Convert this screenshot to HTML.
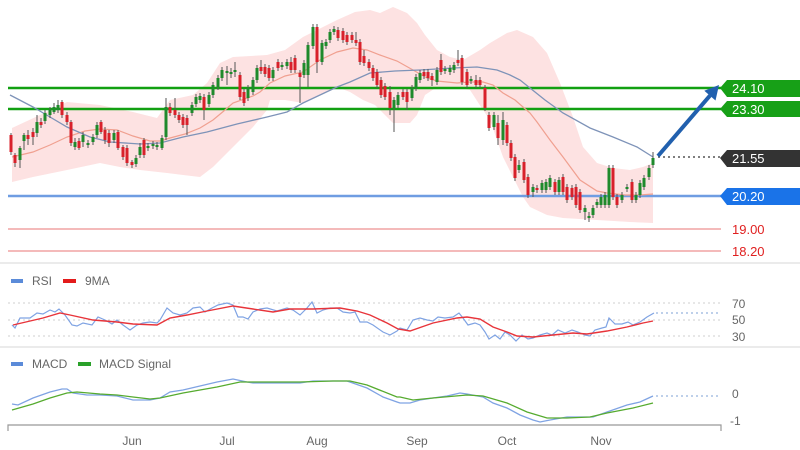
<!DOCTYPE html>
<html><head><meta charset="utf-8"><style>
html,body{margin:0;padding:0;background:#fff;}
svg{display:block;font-family:"Liberation Sans",sans-serif;}
</style></head><body>
<svg width="800" height="450" viewBox="0 0 800 450" xmlns="http://www.w3.org/2000/svg">
<rect width="800" height="450" fill="#fff"/>
<!-- Bollinger band -->
<polygon fill="#fde2e2" points="12,128 40,115 67,102 100,105 133,112 157,118 170,100 193,95 207,83 220,63 233,57 267,55 285,50 303,37 337,20 355,12 370,10 380,13 393,7 407,13 417,23 425,35 437,50 450,57 463,60 480,50 490,43 507,33 517,30 533,37 547,53 560,83 573,117 583,147 597,163 613,168 630,170 643,167 653,163 653,223 630,222 597,220 563,218 547,215 530,207 523,197 503,157 490,120 483,110 470,90 457,87 437,87 425,95 417,115 410,123 393,123 375,105 363,100 350,92 337,87 320,95 303,103 285,100 270,100 267,110 253,127 233,147 213,167 200,177 183,175 167,173 140,170 120,167 100,163 67,170 33,177 12,182"/>
<!-- separators -->
<line x1="0" y1="263" x2="800" y2="263" stroke="#ebebeb" stroke-width="2"/>
<line x1="0" y1="347" x2="800" y2="347" stroke="#ebebeb" stroke-width="2"/>
<!-- horizontal levels -->
<line x1="8" y1="88" x2="721" y2="88" stroke="#12a012" stroke-width="2.5"/>
<line x1="8" y1="109" x2="721" y2="109" stroke="#12a012" stroke-width="2.5"/>
<line x1="8" y1="196" x2="721" y2="196" stroke="#6f9de2" stroke-width="2.5"/>
<line x1="8" y1="229" x2="721" y2="229" stroke="#f0a3a3" stroke-width="1.5"/>
<line x1="8" y1="251" x2="721" y2="251" stroke="#f0a3a3" stroke-width="1.5"/>
<!-- MAs -->
<polyline fill="none" stroke="#f0a090" stroke-width="1.2" points="12,157 33,152 50,145 67,137 85,131 100,129 117,130 133,136 150,141 160,141 170,138 185,134 200,128 213,120 225,110 233,103 253,96 260,92 270,83 285,76 303,72 320,60 337,52 353,48 367,50 380,55 397,61 413,70 427,78 437,81 457,83 470,82 483,82 493,85 503,93 515,100 523,107 530,113 537,122 550,140 563,157 580,180 597,191 607,193 625,195 640,195 653,194"/>
<polyline fill="none" stroke="#7e93b8" stroke-width="1.3" points="10,95 33,107 50,117 67,127 90,137 110,142 140,144 160,143 183,137 207,132 237,124 267,117 287,112 303,103 320,95 337,87 350,82 370,73 395,71 420,70 453,68 477,67 497,70 510,75 520,80 530,88 545,100 563,113 590,128 613,137 637,147 653,157"/>
<!-- wicks -->
<path fill="none" stroke="#555" stroke-width="1" d="M11 133V155M15 153V167M20 146V168M24 133V150M28 130V145M33 128V145M37 115V137M41 118V128M45 110V124M50 107V118M54 103V114M58 100V113M62 100V118M67 112V125M71 120V146M75 138V150M79 138V150M83 132V147M88 140V148M93 134V145M97 122V138M101 120V134M105 127V144M109 130V147M114 130V143M118 130V150M123 145V160M127 145V166M132 160V168M136 155V167M140 143V158M144 138V158M148 143V151M153 141V149M157 142V150M162 135V150M166 98V140M170 103V116M175 98V118M179 112V123M183 114V128M187 115V135M192 102V116M196 94V107M200 93V103M204 94V120M209 92V107M213 82V98M218 75V90M222 67V81M227 66V85M231 68V78M235 62V77M240 72V100M244 89V106M248 85V101M253 77V95M257 65V83M261 60V74M265 64V77M269 65V81M273 67V81M278 59V71M282 62V70M287 59V69M291 57V73M295 55V73M300 70V103M304 60V78M308 42V87M313 24V49M317 24V73M322 40V65M326 39V49M330 29V43M334 26V35M338 27V41M343 28V43M347 32V45M352 32V43M356 32V46M360 39V65M364 50V66M369 59V71M373 65V81M377 69V88M381 77V98M385 83V100M390 86V115M394 97V132M398 92V108M403 89V100M407 89V110M412 85V101M416 74V91M420 70V83M424 69V79M428 69V81M432 73V86M437 67V85M441 54V75M445 66V74M450 65V75M454 62V73M458 50V66M462 55V85M467 69V88M471 76V84M476 75V88M480 77V88M485 85V111M489 112V131M494 112V130M498 115V145M503 112V145M507 122V146M511 140V161M515 154V181M519 160V173M524 159V183M528 174V198M533 184V197M537 185V193M542 180V193M546 179V193M550 175V190M555 179V195M559 177V195M563 174V195M567 184V203M572 185V200M576 184V208M580 189V213M585 205V220M589 212V222M593 205V218M597 199V208M601 194V208M605 192V208M609 165V208M613 165V200M617 194V208M622 192V203M627 184V192M632 179V203M636 192V203M640 180V198M644 175V190M649 165V180M653 152V168"/>
<!-- green bodies -->
<path fill="#1f8a2c" d="M18.5 148h3v12h-3zM22.5 135h3v6h-3zM35.5 122h3v11h-3zM43.5 113h3v8h-3zM48.5 110h3v5h-3zM52.5 107h3v5h-3zM56.5 105h3v5h-3zM73.5 142h3v5h-3zM81.5 135h3v7h-3zM86.5 143h3v2h-3zM91.5 137h3v5h-3zM95.5 125h3v10h-3zM112.5 133h3v7h-3zM134.5 158h3v6h-3zM138.5 147h3v8h-3zM146.5 146h3v2h-3zM151.5 144h3v2h-3zM155.5 145h3v2h-3zM160.5 138h3v10h-3zM164.5 107h3v30h-3zM190.5 105h3v8h-3zM194.5 97h3v7h-3zM198.5 96h3v4h-3zM207.5 95h3v9h-3zM211.5 85h3v10h-3zM216.5 78h3v9h-3zM220.5 70h3v8h-3zM225.5 71h3v2h-3zM229.5 72h3v2h-3zM233.5 70h3v2h-3zM246.5 88h3v10h-3zM251.5 80h3v12h-3zM255.5 68h3v12h-3zM271.5 70h3v8h-3zM280.5 65h3v2h-3zM285.5 62h3v4h-3zM302.5 63h3v12h-3zM306.5 45h3v30h-3zM311.5 27h3v19h-3zM320.5 43h3v19h-3zM324.5 42h3v4h-3zM328.5 32h3v8h-3zM332.5 29h3v3h-3zM392.5 100h3v8h-3zM396.5 95h3v10h-3zM410.5 88h3v10h-3zM414.5 77h3v11h-3zM418.5 73h3v7h-3zM435.5 70h3v12h-3zM443.5 69h3v2h-3zM448.5 68h3v4h-3zM452.5 65h3v5h-3zM469.5 79h3v2h-3zM492.5 115h3v12h-3zM501.5 120h3v20h-3zM517.5 165h3v5h-3zM531.5 187h3v5h-3zM540.5 183h3v7h-3zM544.5 182h3v8h-3zM548.5 178h3v9h-3zM557.5 180h3v12h-3zM583.5 208h3v4h-3zM587.5 216h3v2h-3zM591.5 208h3v7h-3zM595.5 202h3v3h-3zM599.5 197h3v8h-3zM603.5 195h3v10h-3zM607.5 168h3v37h-3zM620.5 195h3v5h-3zM625.5 187h3v2h-3zM634.5 195h3v5h-3zM638.5 183h3v12h-3zM642.5 178h3v9h-3zM647.5 168h3v9h-3zM651.5 158h3v7h-3z"/>
<!-- red bodies -->
<path fill="#d8212b" d="M9.5 135h3v17h-3zM13.5 155h3v8h-3zM26.5 135h3v4h-3zM31.5 132h3v5h-3zM39.5 122h3v3h-3zM60.5 102h3v13h-3zM65.5 115h3v7h-3zM69.5 122h3v21h-3zM77.5 141h3v7h-3zM99.5 122h3v10h-3zM103.5 130h3v10h-3zM107.5 133h3v10h-3zM116.5 132h3v16h-3zM121.5 147h3v10h-3zM125.5 148h3v15h-3zM130.5 162h3v3h-3zM142.5 140h3v15h-3zM168.5 107h3v6h-3zM173.5 110h3v5h-3zM177.5 115h3v5h-3zM181.5 117h3v8h-3zM185.5 118h3v7h-3zM202.5 97h3v13h-3zM238.5 75h3v22h-3zM242.5 92h3v11h-3zM259.5 67h3v4h-3zM263.5 67h3v7h-3zM267.5 68h3v10h-3zM276.5 62h3v6h-3zM289.5 62h3v8h-3zM293.5 58h3v12h-3zM298.5 73h3v4h-3zM315.5 27h3v35h-3zM336.5 30h3v8h-3zM341.5 31h3v9h-3zM345.5 35h3v7h-3zM350.5 35h3v5h-3zM354.5 40h3v3h-3zM358.5 42h3v20h-3zM362.5 56h3v7h-3zM367.5 62h3v6h-3zM371.5 68h3v10h-3zM375.5 72h3v13h-3zM379.5 80h3v15h-3zM383.5 86h3v11h-3zM388.5 92h3v16h-3zM401.5 92h3v5h-3zM405.5 92h3v10h-3zM422.5 72h3v4h-3zM426.5 72h3v6h-3zM430.5 76h3v4h-3zM439.5 60h3v12h-3zM456.5 60h3v3h-3zM460.5 58h3v24h-3zM465.5 72h3v13h-3zM474.5 80h3v5h-3zM478.5 80h3v5h-3zM483.5 88h3v20h-3zM487.5 115h3v13h-3zM496.5 123h3v15h-3zM505.5 125h3v18h-3zM509.5 143h3v15h-3zM513.5 157h3v21h-3zM522.5 162h3v18h-3zM526.5 177h3v18h-3zM535.5 188h3v2h-3zM553.5 182h3v10h-3zM561.5 177h3v15h-3zM565.5 187h3v13h-3zM570.5 188h3v9h-3zM574.5 187h3v18h-3zM578.5 192h3v18h-3zM611.5 168h3v29h-3zM615.5 197h3v8h-3zM630.5 182h3v18h-3z"/>
<!-- current price dotted -->
<line x1="658" y1="157" x2="720" y2="157" stroke="#555" stroke-width="1.5" stroke-dasharray="2,3"/>
<!-- arrow -->
<line x1="658" y1="156" x2="710" y2="95.6" stroke="#2160ae" stroke-width="4"/>
<polygon fill="#2160ae" points="719,85 715.5,100.5 704.3,90.8"/>
<!-- right labels -->
<path fill="#17a017" d="M720 88L727 80H800V97H727Z"/>
<text x="732" y="93" font-size="13" fill="#fff">24.10</text>
<path fill="#17a017" d="M720 109L727 101H800V117H727Z"/>
<text x="732" y="114" font-size="13" fill="#fff">23.30</text>
<path fill="#333" d="M720 158L727 150H800V167H727Z"/>
<text x="732" y="163" font-size="13" fill="#fff">21.55</text>
<path fill="#1a73e8" d="M720 196L727 188H800V205H727Z"/>
<text x="732" y="201" font-size="13" fill="#fff">20.20</text>
<text x="732" y="234" font-size="13" fill="#e02020">19.00</text>
<text x="732" y="256" font-size="13" fill="#e02020">18.20</text>
<!-- RSI panel -->
<rect x="11" y="279" width="12" height="4" fill="#5b8bd9"/>
<text x="32" y="285" font-size="12" fill="#666">RSI</text>
<rect x="63" y="279" width="13" height="4" fill="#e31b1b"/>
<text x="85" y="285" font-size="12" fill="#666">9MA</text>
<g stroke="#cfcfcf" stroke-width="1" stroke-dasharray="2,3">
<line x1="8" y1="303" x2="720" y2="303"/>
<line x1="8" y1="320" x2="720" y2="320"/>
<line x1="8" y1="336" x2="720" y2="336"/>
</g>
<line x1="656" y1="313" x2="720" y2="313" stroke="#a9c0e4" stroke-width="1.5" stroke-dasharray="2,3"/>
<text x="732" y="308" font-size="12" fill="#666">70</text>
<text x="732" y="324" font-size="12" fill="#666">50</text>
<text x="732" y="341" font-size="12" fill="#666">30</text>
<polyline fill="none" stroke="#7fa3e3" stroke-width="1.2" points="12,325 15,328 20,318 30,318 37,313 43,314 50,310 55,312 59,309 65,315 72,325 77,326 83,323 92,325 98,317 105,320 112,324 117,320 123,325 130,330 137,325 143,323 150,322 157,323 160,320 167,308 173,313 180,315 187,313 193,308 200,307 205,312 212,308 218,305 227,303 233,305 238,317 243,317 248,319 253,312 260,309 267,308 277,311 287,308 293,310 300,315 307,308 312,302 317,313 323,310 330,308 337,308 343,312 350,313 355,312 360,322 367,322 373,325 383,332 390,335 397,331 400,328 407,330 413,320 420,318 427,320 433,321 438,317 445,318 453,317 459,313 463,318 468,325 475,323 480,325 485,332 489,339 495,335 500,339 505,332 510,335 516,341 522,335 528,339 533,338 540,335 547,333 552,335 558,330 565,333 572,330 578,332 585,335 590,336 595,330 602,328 606,327 609,318 615,324 622,324 628,322 633,325 640,322 647,317 654,313"/>
<polyline fill="none" stroke="#e8343a" stroke-width="1.4" points="13,325 43,318 60,313 70,315 93,320 117,322 133,324 157,325 170,318 187,315 207,311 233,306 253,309 273,312 290,309 313,309 340,308 357,311 370,315 387,323 398,329 410,331 433,323 457,318 467,317 480,319 493,327 507,332 517,336 533,337 553,335 573,333 587,334 607,331 627,327 643,323 653,321"/>
<!-- MACD panel -->
<rect x="11" y="362" width="12" height="4" fill="#5b8bd9"/>
<text x="32" y="368" font-size="12" fill="#666">MACD</text>
<rect x="78" y="362" width="13" height="4" fill="#2aa12a"/>
<text x="99" y="368" font-size="12" fill="#666">MACD Signal</text>
<line x1="656" y1="396" x2="720" y2="396" stroke="#a9c0e4" stroke-width="1.5" stroke-dasharray="2,3"/>
<text x="732" y="398" font-size="12" fill="#666">0</text>
<text x="730" y="425" font-size="12" fill="#666">-1</text>
<polyline fill="none" stroke="#7fa3e3" stroke-width="1.3" points="12,404 18,405 33,398 50,392 62,389 67,389 73,393 87,395 100,395 117,396 133,400 150,400 160,398 170,392 183,390 200,386 217,382 233,379 247,382 253,383 267,383 300,383 313,381 333,381 347,381 367,388 383,397 397,402 400,403 410,403 420,400 433,398 447,396 460,393 467,394 483,397 493,403 507,408 520,415 533,420 540,422 550,420 567,417 580,417 593,417 607,412 627,405 640,402 653,396"/>
<polyline fill="none" stroke="#56ab2f" stroke-width="1.3" points="12,410 33,404 50,398 67,393 77,392 100,394 117,395 133,397 150,399 160,398 183,393 217,387 240,382 267,382 300,382 333,381 350,381 367,385 397,397 400,397 413,400 433,398 467,395 483,396 507,403 527,412 547,418 567,418 590,417 607,413 633,408 653,403"/>
<!-- x axis -->
<path fill="none" stroke="#999" stroke-width="1.2" d="M8 431V425H721V431"/>
<g font-size="12" fill="#666" text-anchor="middle">
<text x="132" y="445">Jun</text>
<text x="227" y="445">Jul</text>
<text x="317" y="445">Aug</text>
<text x="417" y="445">Sep</text>
<text x="507" y="445">Oct</text>
<text x="601" y="445">Nov</text>
</g>
</svg>
</body></html>
